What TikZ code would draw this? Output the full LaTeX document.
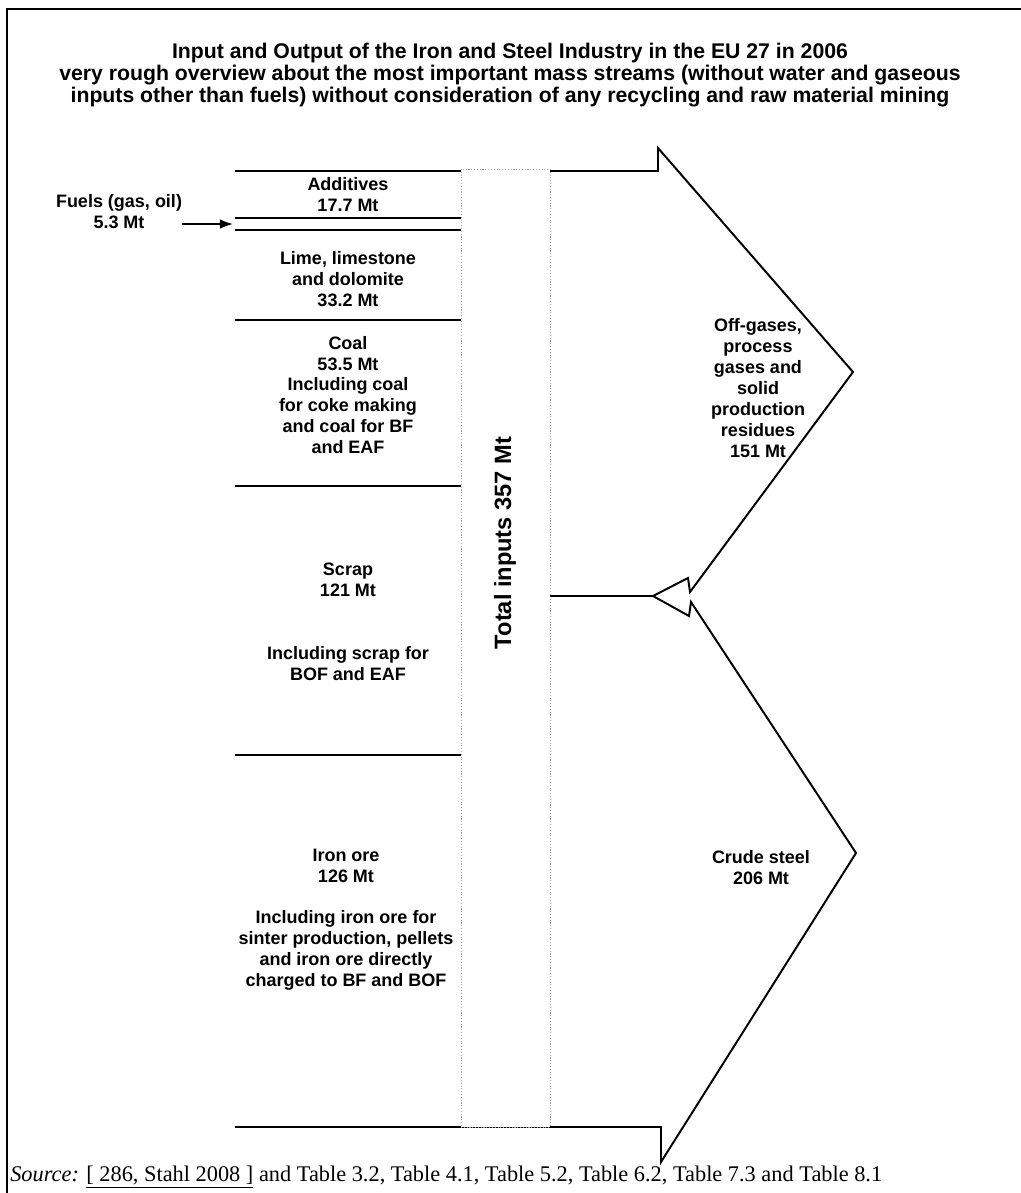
\documentclass[tikz,border=0pt]{standalone}
\usepackage{fontspec}
\setmainfont{Liberation Sans}
\newfontfamily\srcfont{Liberation Serif}
\usetikzlibrary{arrows.meta,positioning}

\tikzset{
  flowtxt/.style={align=center, inner sep=0pt, font=\fontsize{12.8}{14.9}\selectfont\bfseries},
  bandline/.style={line width=1.4pt},
  thinline/.style={line width=0.8pt},
}

\begin{document}
\begin{tikzpicture}[x=0.25mm,y=-0.25mm]
  \useasboundingbox (0,0) rectangle (1021,1193);

  % Frame
  \draw[bandline] (7,1193) -- (7,9) -- (1021,9);

  % Title
  \node[flowtxt, font=\fontsize{15.1}{15.6}\selectfont\bfseries] (title) at (510,75)
    {Input and Output of the Iron and Steel Industry in the EU 27 in 2006\\
     very rough overview about the most important mass streams (without water and gaseous\\
     inputs other than fuels) without consideration of any recycling and raw material mining};

  % --- Input bands ---
  \draw[bandline] (235,218) -- (461,218);
  \draw[bandline] (235,230) -- (461,230);
  \draw[bandline] (235,320) -- (461,320);
  \draw[thinline] (235,486) -- (461,486);
  \draw[thinline] (235,755) -- (461,755);

  % --- Output arrows (outline) ---
  \draw[bandline, line join=miter] (235,171) -- (658,171) -- (658,148) -- (853,372)
    -- (690,592) -- (688,578) -- (653,596) -- (689,616) -- (691,602) -- (856,853)
    -- (661,1162) -- (661,1127) -- (235,1127);
  \coordinate (recyc) at (653,596);

  % --- Total input column ---
  \node[draw=gray!70, line width=0.6pt, dash pattern=on 0.8pt off 1.2pt, fill=white,
        inner sep=0pt, minimum width=22.25mm, minimum height=239.5mm] (column) at (505.5,648) {};
  \node[flowtxt, font=\fontsize{16.8}{19}\selectfont\bfseries, rotate=90] (total) at (505,543) {Total inputs 357 Mt};
  \draw[line width=1pt] (column.east |- recyc) -- (recyc);

  % --- Fuels ---
  \node[flowtxt] (fuels) at (119,212) {Fuels (gas, oil)\\5.3 Mt};
  \coordinate (fuelin) at (233,224);
  \draw[line width=1pt, -{Latex[length=3.3mm,width=2.4mm]}] (fuels.east |- fuelin) -- (fuelin);

  % --- Input labels ---
  \node[flowtxt] (additives) at (348,195) {Additives\\17.7 Mt};
  \node[flowtxt] (lime) at (348,279) {Lime, limestone\\and dolomite\\33.2 Mt};
  \node[flowtxt] (coal) at (348,395) {Coal\\53.5 Mt\\Including coal\\for coke making\\and coal for BF\\and EAF};
  \node[flowtxt] (scrap) at (348,622) {Scrap\\121 Mt\\[29.9pt]Including scrap for\\BOF and EAF};
  \node[flowtxt] (ironore) at (346,920) {Iron ore\\126 Mt\\[14.2pt]Including iron ore for\\sinter production, pellets\\and iron ore directly\\charged to BF and BOF};

  % --- Output labels ---
  \node[flowtxt] (offgas) at (758,388) {Off-gases,\\process\\gases and\\solid\\production\\residues\\151 Mt};
  \node[flowtxt] (crude) at (761,868) {Crude steel\\206 Mt};

  % Source line
  \node[anchor=west, inner sep=0pt, font=\srcfont\fontsize{15.9}{18}\selectfont] (source) at (10,1177)
    {\textit{Source:} \underline{[ 286, Stahl 2008 ]} and Table 3.2, Table 4.1, Table 5.2, Table 6.2, Table 7.3 and Table 8.1};
\end{tikzpicture}
\end{document}
